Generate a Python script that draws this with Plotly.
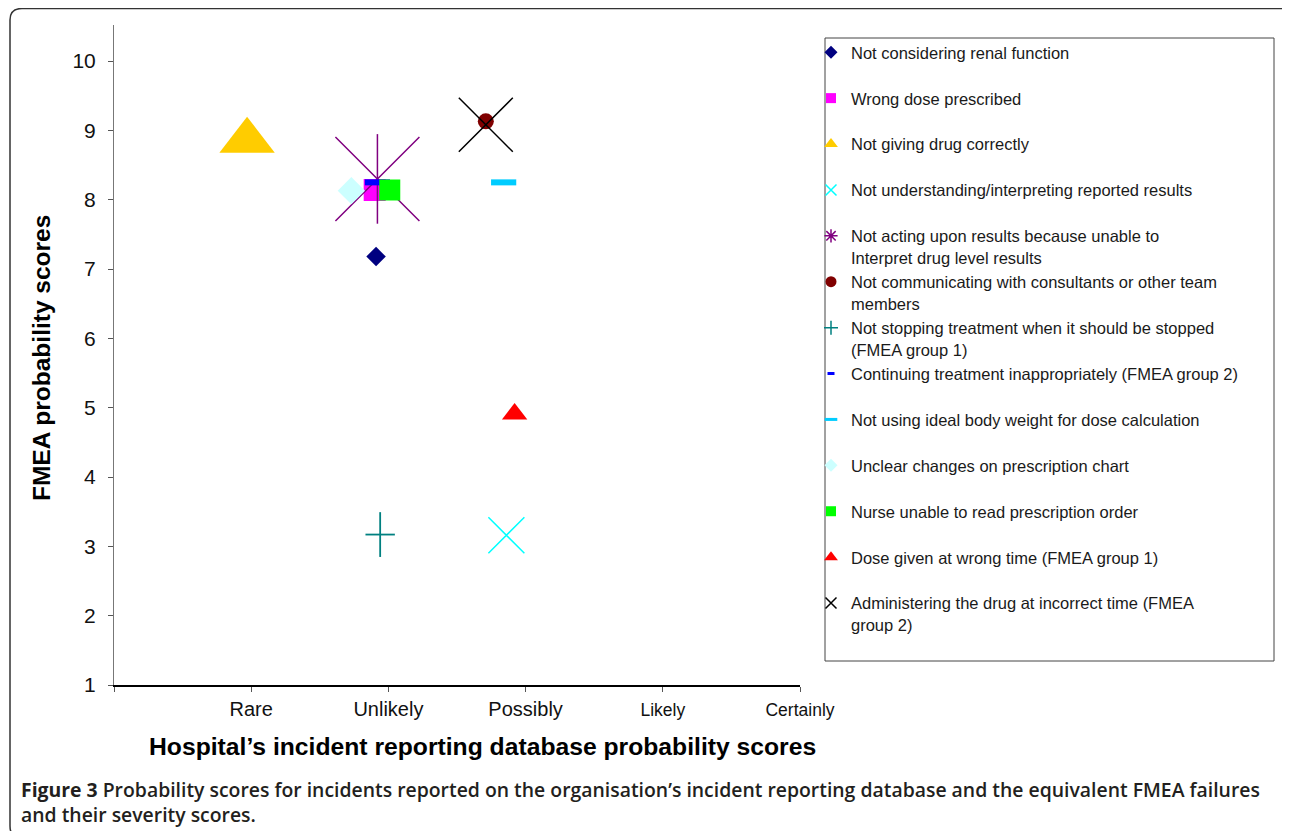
import plotly.graph_objects as go

# ---------------- data ----------------
categories = ["Rare", "Unlikely", "Possibly", "Likely", "Certainly"]
cat_positions = [1, 2, 3, 4, 5]
y_ticks = [1, 2, 3, 4, 5, 6, 7, 8, 9, 10]

series_names = [
    "Not considering renal function",
    "Wrong dose prescribed",
    "Not giving drug correctly",
    "Not understanding/interpreting reported results",
    "Not acting upon results because unable to<br>Interpret drug level results",
    "Not communicating with consultants or other team<br>members",
    "Not stopping treatment when it should be stopped<br>(FMEA group 1)",
    "Continuing treatment inappropriately (FMEA group 2)",
    "Not using ideal body weight for dose calculation",
    "Unclear changes on prescription chart",
    "Nurse unable to read prescription order",
    "Dose given at wrong time (FMEA group 1)",
    "Administering the drug at incorrect time (FMEA<br>group 2)",
]
x_scores = [1.91, 1.90, 0.97, 2.86, 1.92, 2.71, 1.94, 1.92, 2.84, 1.73, 2.01, 2.92, 2.71]
y_scores = [7.18, 8.14, 8.85, 3.16, 8.30, 9.13, 3.17, 8.25, 8.25, 8.13, 8.14, 4.91, 9.08]

# ---------------- styles ----------------
colors = ["#000080", "#FF00FF", "#FFCC00", "#00FFFF", "#800080", "#800000", "#008080",
          "#0000FF", "#00CCFF", "#CCFFFF", "#00FF00", "#FF0000", "#000000"]
# list of (symbol, size, line width) drawn for each series
plot_markers = [
    [("diamond", 15, 0)],
    [("square", 22, 0)],
    [("triangle-up", 48, 0)],
    [("x-thin-open", 36, 1.5)],
    [("x-thin-open", 84, 1.5), ("line-ns-open", 64, 1.5)],
    [("circle", 16, 0)],
    [("line-ns-open", 32, 1.8), ("line-ew-open", 21, 1.8)],
    [("line-ew-open", 18, 6)],
    [("line-ew-open", 18, 6)],
    [("diamond", 21, 0)],
    [("square", 21, 0)],
    [("triangle-up", 22, 0)],
    [("x-thin-open", 54, 1.5)],
]
legend_markers = [
    ("diamond", 10, 0), ("square", 10, 0), ("triangle-up", 12, 0), ("x-thin-open", 11, 1.5),
    ("asterisk-open", 11, 1.5), ("circle", 11, 0), ("cross-thin-open", 10, 1.5),
    ("line-ew-open", 5, 3), ("line-ew-open", 9, 3), ("diamond", 10, 0), ("square", 10, 0),
    ("triangle-up", 12, 0), ("x-thin-open", 11, 1.5),
]

FONT = "Liberation Sans, Arial, Helvetica, sans-serif"
OFF = 8                      # page body margin of the html page
W, H = 1290 - OFF, 831 - OFF
L, R, T, B = 114, 800, 25, 685  # plot area in screen px


def px(x):
    return (x - L) / (R - L)


def py(y):
    return (B - y) / (B - T)


fig = go.Figure()

for i, name in enumerate(series_names):
    label = name if "<br>" in name else name + "<br>&nbsp;"
    sym, sz, lw = legend_markers[i]
    fig.add_trace(go.Scatter(
        x=[None], y=[None], mode="markers", name=label, legendgroup=f"g{i}",
        marker=dict(symbol=sym, size=sz, color=colors[i],
                    line=dict(color=colors[i], width=lw)),
    ))
    for sym, sz, lw in plot_markers[i]:
        fig.add_trace(go.Scatter(
            x=[x_scores[i]], y=[y_scores[i]], mode="markers", name=label,
            legendgroup=f"g{i}", showlegend=False, hoverinfo="name+x+y",
            marker=dict(symbol=sym, size=sz, color=colors[i],
                        line=dict(color=colors[i], width=lw)),
        ))

ticktext = ["", categories[0], categories[1], categories[2],
            "<span style='font-size:17.5px'>" + categories[3] + "</span>",
            "<span style='font-size:17.5px'>" + categories[4] + "</span>"]

fig.update_xaxes(
    range=[0, 5], tickvals=[0] + cat_positions, ticktext=ticktext,
    showline=True, linecolor="#000000", linewidth=1.5, mirror=False,
    ticks="outside", ticklen=5, tickcolor="#555555", tickwidth=1,
    showgrid=False, zeroline=False, ticklabelstandoff=0,
    tickfont=dict(family=FONT, size=20, color="#111111"),
)
fig.update_yaxes(
    range=[1, 10.52], tickvals=y_ticks,
    showline=True, linecolor="#777777", linewidth=1,
    ticks="outside", ticklen=5, tickcolor="#555555", tickwidth=1,
    showgrid=False, zeroline=False, ticklabelstandoff=8,
    tickfont=dict(family=FONT, size=21, color="#111111"),
)

shapes = [
    # outer rounded frame
    dict(type="path", xref="paper", yref="paper", layer="below",
         path=(f"M {px(10)},{py(20)} Q {px(10)},{py(8.5)} {px(22)},{py(8.5)} "
               f"L {px(1281)},{py(8.5)} Q {px(1293)},{py(8.5)} {px(1293)},{py(20)} "
               f"L {px(1293)},{py(826)} Q {px(1293)},{py(838)} {px(1281)},{py(838)} "
               f"L {px(22)},{py(838)} Q {px(10)},{py(838)} {px(10)},{py(826)} Z"),
         line=dict(color="#333333", width=1.5), fillcolor="rgba(0,0,0,0)"),
    # legend frame
    dict(type="rect", xref="paper", yref="paper", layer="below",
         x0=px(825), x1=px(1274), y0=py(38), y1=py(661),
         line=dict(color="#444444", width=1), fillcolor="rgba(0,0,0,0)"),
]

annotations = [
    dict(text="<b>Hospital’s incident reporting database probability scores</b>",
         xref="paper", yref="paper", x=px(482), y=py(746), xanchor="center", yanchor="middle",
         showarrow=False, font=dict(family=FONT, size=24.7, color="#000000")),
    dict(text="<b>FMEA probability scores</b>", textangle=-90,
         xref="paper", yref="paper", x=px(41), y=py(358), xanchor="center", yanchor="middle",
         showarrow=False, font=dict(family=FONT, size=24.5, color="#000000")),
    dict(text="<b>Figure 3</b> Probability scores for incidents reported on the organisation’s incident "
              "reporting database and the equivalent FMEA failures<br>and their severity scores.",
         xref="paper", yref="paper", x=px(19), y=py(774), xanchor="left", yanchor="top",
         align="left", showarrow=False,
         font=dict(family="Open Sans, Noto Sans, sans-serif", size=19.4, color="#231F20", weight=600)),
]

fig.update_layout(
    width=W, height=H, autosize=False,
    margin=dict(l=L - OFF, r=W - (R - OFF), t=T - OFF, b=H - (B - OFF)),
    paper_bgcolor="#FFFFFF", plot_bgcolor="#FFFFFF",
    showlegend=True,
    legend=dict(x=px(811), y=py(35), xanchor="left", yanchor="top",
                bgcolor="rgba(0,0,0,0)", borderwidth=0,
                font=dict(family=FONT, size=16.5, color="#1a1a1a"),
                traceorder="grouped", tracegroupgap=0, valign="top",
                itemsizing="trace", itemwidth=30),
    shapes=shapes, annotations=annotations,
    font=dict(family=FONT),
)

fig.write_html("out.html")
